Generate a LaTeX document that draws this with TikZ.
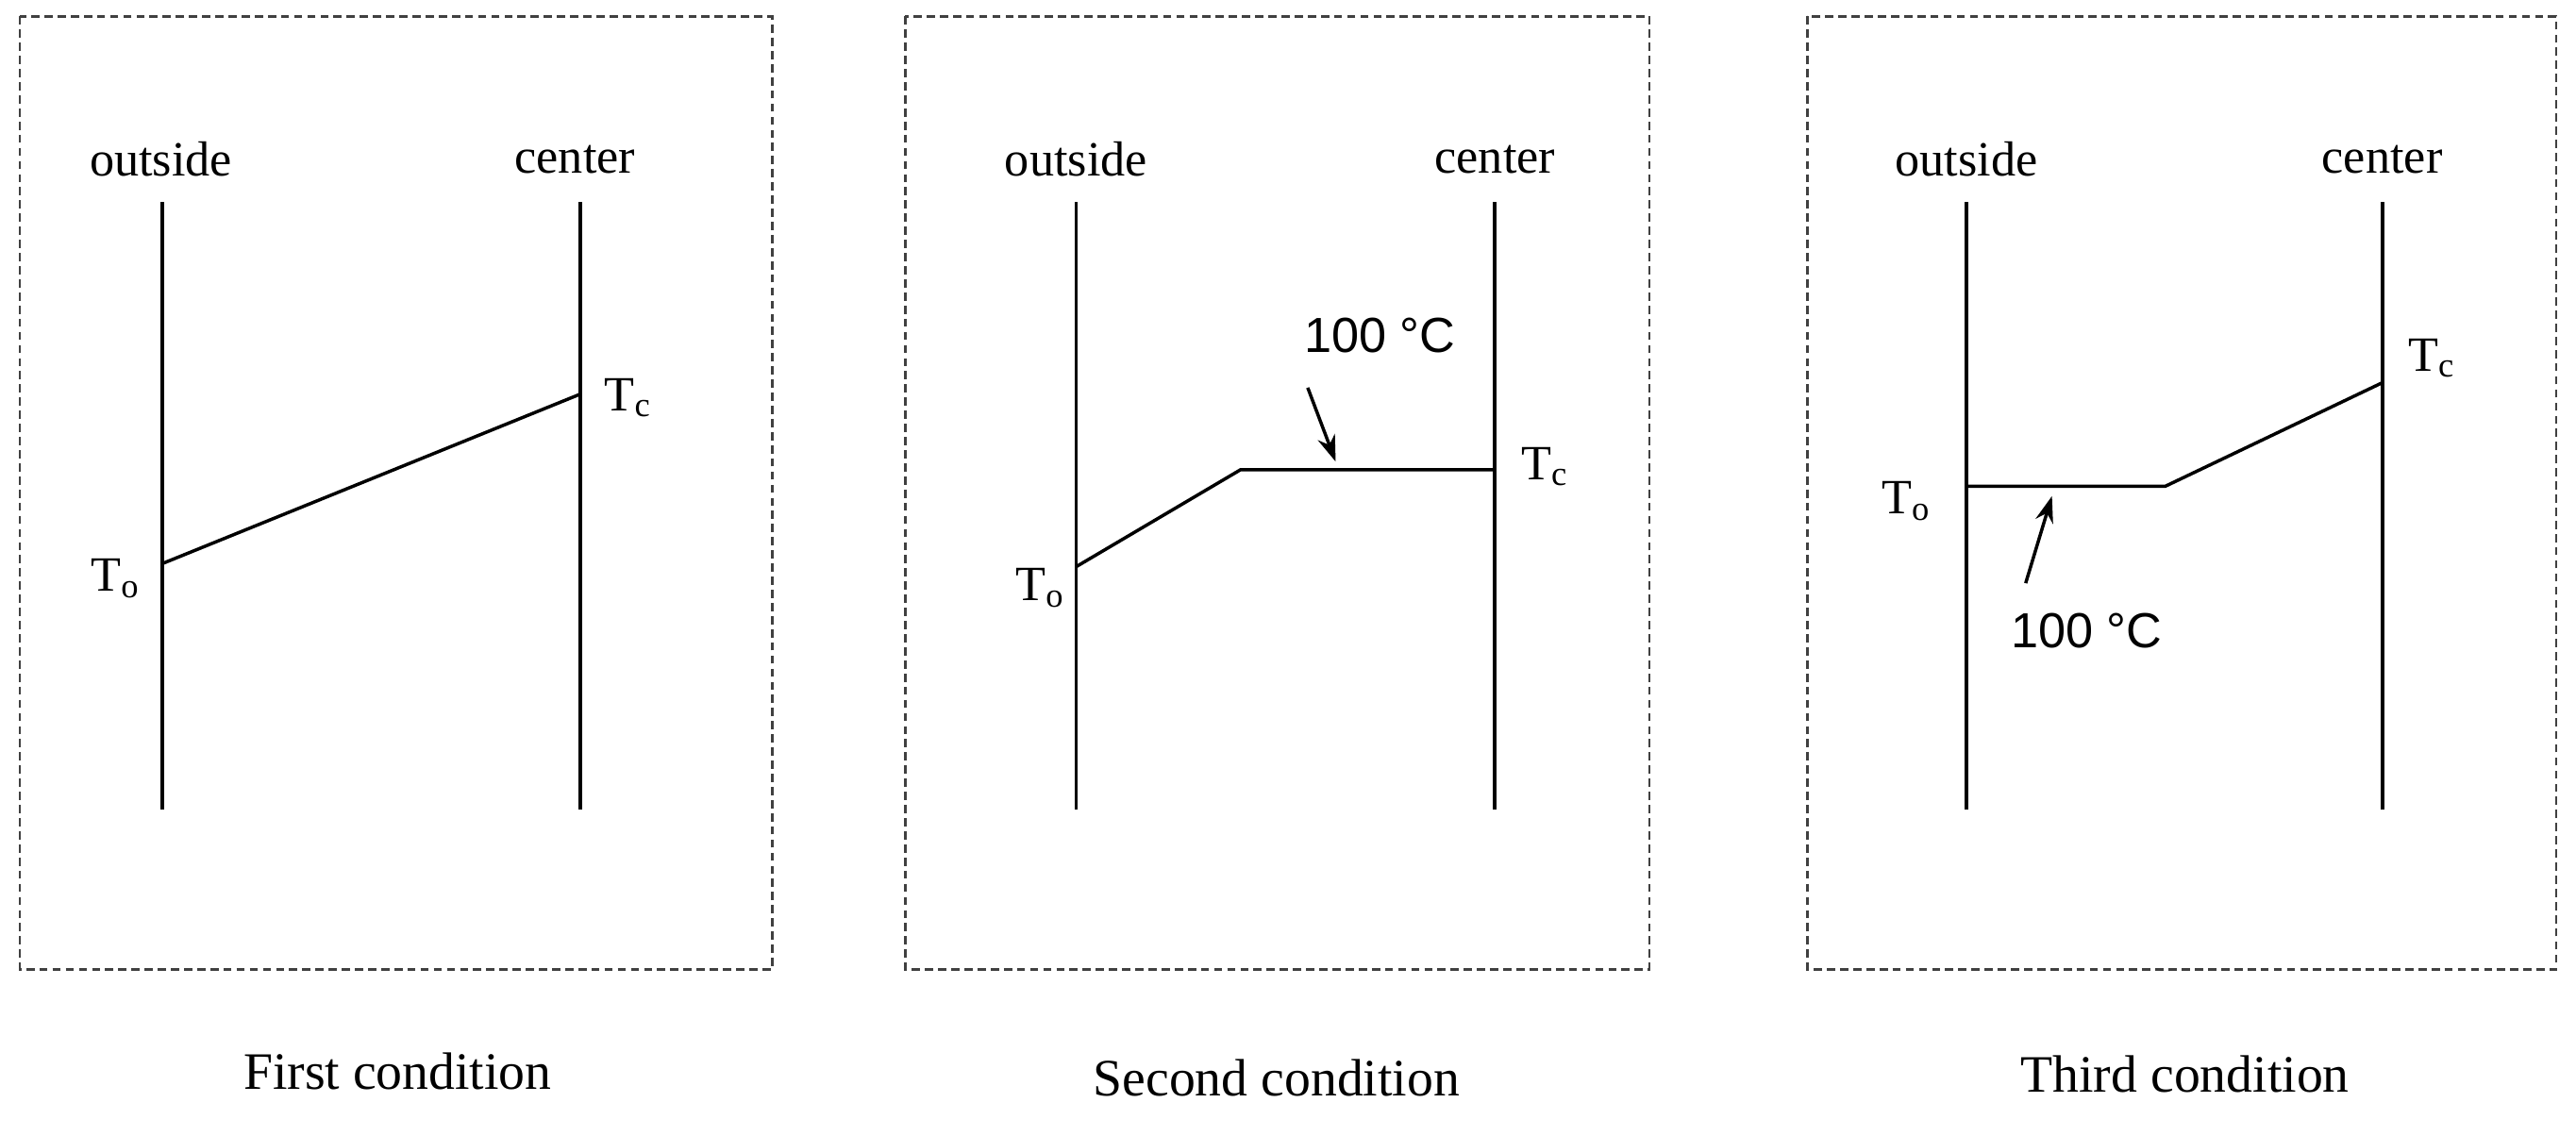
\documentclass[tikz,border=0pt]{standalone}
\usepackage{fontspec}
\setmainfont{Liberation Serif}
\newfontfamily\sansf{Liberation Sans}
\usetikzlibrary{arrows.meta}
\begin{document}
\begin{tikzpicture}[x=1pt,y=-1pt,
  frame/.style={draw=black!75,dashed,line width=1.5pt,dash pattern=on 5pt off 3pt},
  axis/.style={line width=2.2pt},
  prof/.style={line width=2pt},
  lab/.style={font=\fontsize{30}{36}\selectfont,inner sep=0},
  captxt/.style={font=\fontsize{32}{38}\selectfont,inner sep=0},
  deg/.style={font=\sansf\fontsize{30}{36}\selectfont,inner sep=0},
  arr/.style={-{Stealth[length=16pt,width=11pt]},line width=2pt}]
\useasboundingbox (0,0) rectangle (1568,691);
\fill[white] (0,0) rectangle (1568,691);
% panel 1
\draw[frame] (12,10) rectangle (470,590);
\coordinate (a1t) at (99,123); \coordinate (a1b) at (99,493);
\coordinate (b1t) at (353,123); \coordinate (b1b) at (353,493);
\draw[axis] (a1t) -- (a1b); \draw[axis] (b1t) -- (b1b);
\coordinate (p1a) at (99,343); \coordinate (p1b) at (353,240);
\draw[prof] (p1a) -- (p1b);
\node[lab] (o1) at (98,97) {outside};
\node[lab] (c1) at (350,97) {center};
\node[lab] (to1) at (70,352) {T\textsubscript{o}};
\node[lab] (tc1) at (382,242) {T\textsubscript{c}};
\node[captxt] (k1) at (242,652) {First condition};
% panel 2
\draw[frame] (551,10) rectangle (1004,590);
\coordinate (a2t) at (655,123); \coordinate (a2b) at (655,493);
\coordinate (b2t) at (910,123); \coordinate (b2b) at (910,493);
\draw[axis] (a2t) -- (a2b); \draw[axis] (b2t) -- (b2b);
\coordinate (p2a) at (655,345); \coordinate (p2b) at (755,286); \coordinate (p2c) at (910,286);
\draw[prof] (p2a) -- (p2b) -- (p2c);
\node[lab] (o2) at (655,97) {outside};
\node[lab] (c2) at (910,97) {center};
\node[lab] (to2) at (633,358) {T\textsubscript{o}};
\node[lab] (tc2) at (940,284) {T\textsubscript{c}};
\node[deg] (d2) at (840,204) {100 °C};
\coordinate (h2) at (813,281);
\draw[arr] (796,236) -- (h2);
\node[captxt] (k2) at (777,656) {Second condition};
% panel 3
\draw[frame] (1100,10) rectangle (1556,590);
\coordinate (a3t) at (1197,123); \coordinate (a3b) at (1197,493);
\coordinate (b3t) at (1450,123); \coordinate (b3b) at (1450,493);
\draw[axis] (a3t) -- (a3b); \draw[axis] (b3t) -- (b3b);
\coordinate (p3a) at (1197,296); \coordinate (p3b) at (1318,296); \coordinate (p3c) at (1450,233);
\draw[prof] (p3a) -- (p3b) -- (p3c);
\node[lab] (o3) at (1197,97) {outside};
\node[lab] (c3) at (1450,97) {center};
\node[lab] (to3) at (1160,305) {T\textsubscript{o}};
\node[lab] (tc3) at (1480,218) {T\textsubscript{c}};
\node[deg] (d3) at (1270,384) {100 °C};
\coordinate (h3) at (1249,302);
\draw[arr] (1233,355) -- (h3);
\node[captxt] (k3) at (1330,654) {Third condition};
\end{tikzpicture}
\end{document}
